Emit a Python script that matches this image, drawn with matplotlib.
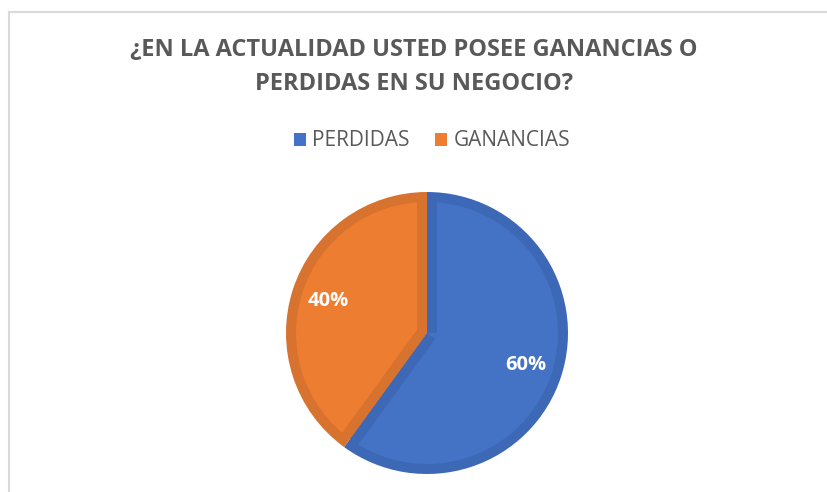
import numpy as np
import matplotlib.pyplot as plt
from matplotlib.lines import Line2D
from matplotlib.patches import Patch, Polygon

plt.rcParams['font.family'] = ['Open Sans', 'DejaVu Sans']

categories = ['PERDIDAS', 'GANANCIAS']
values = [60, 40]
colors = ['#4472C4', '#ED7D31']
edge_colors = ['#3D68B6', '#D8722F']
title = '¿EN LA ACTUALIDAD USTED POSEE GANANCIAS O\nPERDIDAS EN SU NEGOCIO?'

W, H = 828, 492
fig = plt.figure(figsize=(W / 100, H / 100), dpi=100)

# chart frame (only top and left edges visible)
fig.add_artist(Line2D([9 / W, 9 / W], [0, 1 - 12 / H], color='#D9D9D9', lw=1.5))
fig.add_artist(Line2D([9 / W, 1], [1 - 12 / H, 1 - 12 / H], color='#D9D9D9', lw=1.5))

# pie area: center (427, 333), radius ~141 px
r = 141
band = 10 / r  # inner border width in data units
ax = fig.add_axes([(427 - r) / W, (H - 333 - r) / H, 2 * r / W, 2 * r / H])

# dark outer wedges (the border colour)
outer, _ = ax.pie(values, colors=edge_colors, startangle=90, counterclock=False,
                  wedgeprops=dict(linewidth=0))
# lighter inner wedges
inner, _, autotexts = ax.pie(values, colors=colors, startangle=90, counterclock=False,
                             radius=1 - band, autopct='%1.0f%%', pctdistance=0.74 / (1 - band),
                             wedgeprops=dict(linewidth=0),
                             textprops=dict(color='white', fontsize=14.5, fontweight='bold'))

# radial border strips, each on its own wedge's side
for w, ec in zip(outer, edge_colors):
    for ang, sign in ((w.theta1, 1), (w.theta2, -1)):
        a = np.deg2rad(ang)
        u = np.array([np.cos(a), np.sin(a)])
        n = sign * np.array([-np.sin(a), np.cos(a)])
        pts = [n * 0, u * (1 - band), u * (1 - band) + n * band, n * band]
        ax.add_patch(Polygon(pts, closed=True, facecolor=ec, edgecolor='none', zorder=1.5))
for t in autotexts:
    t.set_zorder(3)

ax.set_xlim(-1, 1)
ax.set_ylim(-1, 1)
ax.set_aspect('equal')
ax.axis('off')

fig.text(0.5, 1 - 67 / H, title, ha='center', va='center', fontsize=17,
         fontweight='bold', color='#595959', linespacing=1.5)

handles = [Patch(facecolor=c, edgecolor='none') for c in colors]
fig.legend(handles, categories, loc='center', bbox_to_anchor=(432 / W, 1 - 141 / H),
           ncol=2, frameon=False, fontsize=15, labelcolor='#595959',
           handlelength=0.6, handleheight=0.6, handletextpad=0.3, columnspacing=1.2)

fig.savefig('out.png', dpi=100, facecolor='white')
